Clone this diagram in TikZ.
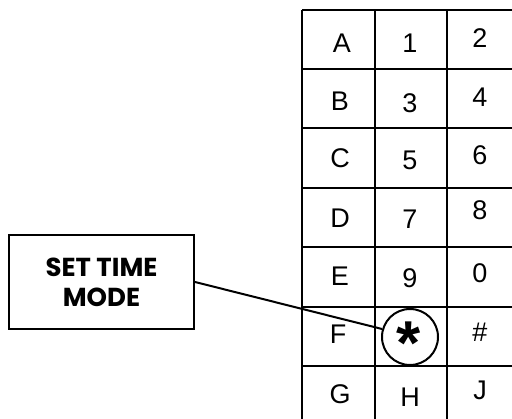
\documentclass[tikz,border=0pt]{standalone}
\usepackage{fontspec}
\setmainfont{Liberation Sans}
\newfontfamily\boxfont{Poppins}
\begin{document}
\begin{tikzpicture}[x=1pt,y=-1pt,
  gridline/.style={line width=2.4pt},
  key/.style={inner sep=0pt,font=\fontsize{27}{27}\selectfont},
  labelbox/.style={draw,line width=2pt,minimum width=185pt,minimum height=94pt,inner sep=0pt,align=center,font=\boxfont\bfseries\fontsize{26}{30}\selectfont},
  ring/.style={draw,circle,line width=2pt,minimum size=56pt,inner sep=0pt}]
\useasboundingbox (0,0) rectangle (512,419);
\begin{scope}
\clip (0,0) rectangle (512,419);
% grid
\foreach \x in {302,375,447,519} \draw[gridline] (\x,10) -- (\x,430);
\foreach \y in {10,69,128,188,247,307,366,425} \draw[gridline] (302,\y) -- (530,\y);
\end{scope}
% keys
\node[key] (kA) at (342,43) {A};
\node[key] (k1) at (410,43) {1};
\node[key] (k2) at (480,38) {2};
\node[key] (kB) at (340,101) {B};
\node[key] (k3) at (410,103) {3};
\node[key] (k4) at (480,97) {4};
\node[key] (kC) at (340,158) {C};
\node[key] (k5) at (410,160) {5};
\node[key] (k6) at (480,155) {6};
\node[key] (kD) at (340,218) {D};
\node[key] (k7) at (410,219) {7};
\node[key] (k8) at (480,210) {8};
\node[key] (kE) at (340,276) {E};
\node[key] (k9) at (410,278) {9};
\node[key] (k0) at (480,273) {0};
\node[key] (kF) at (338,334) {F};
\node[ring] (star) at (410,337) {};
\node[key,font=\bfseries\fontsize{62}{62}\selectfont] (kstar) at (408.5,343.5) {*};
\node[key] (khash) at (480,332) {\#};
\node[key] (kG) at (340,394) {G};
\node[key] (kH) at (410,397) {H};
\node[key] (kJ) at (480,390) {J};
% label box
\node[labelbox] (setbox) at (101.5,282) {SET TIME\\MODE};
\draw[line width=2pt] (setbox.east) -- (star.164);
\end{tikzpicture}
\end{document}
